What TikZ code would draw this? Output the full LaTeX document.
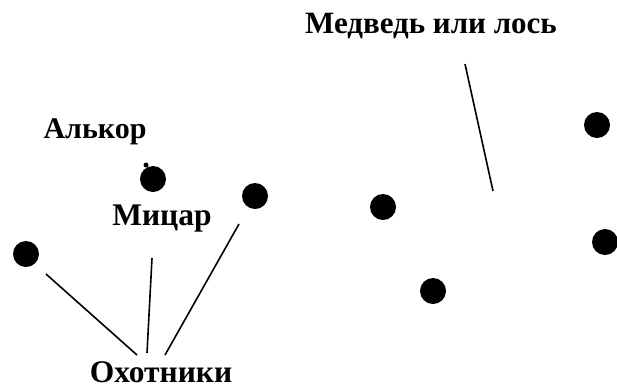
\documentclass[tikz,border=0pt]{standalone}
\usepackage{fontspec}
\setmainfont{Liberation Serif}
\begin{document}
\begin{tikzpicture}[x=1pt,y=-1pt,
  star/.style={circle,fill=black,inner sep=0pt,minimum size=26pt},
  tiny/.style={circle,fill=black,inner sep=0pt,minimum size=5pt},
  lbl/.style={anchor=base,inner sep=0pt,font=\bfseries},
  ptr/.style={line width=1.6pt}]
\useasboundingbox (0,0) rectangle (617,389);
% stars
\node[star] (s1) at (26,254) {};
\node[tiny] (alc) at (146,165) {};
\node[star] (miz) at (153,179) {};
\node[star] (s3) at (255,196) {};
\node[star] (s4) at (383,207) {};
\node[star] (s5) at (433,291) {};
\node[star] (s6) at (597,125) {};
\node[star] (s7) at (605,242) {};
% labels
\node[lbl,font=\bfseries\fontsize{30}{30}\selectfont] (alkor) at (95,138) {Алькор};
\node[lbl,font=\bfseries\fontsize{31.5}{31.5}\selectfont] (mizar) at (162,225) {Мицар};
\node[lbl,font=\bfseries\fontsize{31.5}{31.5}\selectfont] (hunt) at (161,382) {Охотники};
\node[lbl,font=\bfseries\fontsize{31}{31}\selectfont] (bear) at (431,33) {Медведь или лось};
% pointer lines
\coordinate (p1) at (46,274);
\coordinate (h1) at (137,355);
\coordinate (p2) at (152,258);
\coordinate (h2) at (147,353);
\coordinate (p3) at (239,224);
\coordinate (h3) at (165,355);
\coordinate (b1) at (465,64);
\coordinate (b2) at (493,191);
\draw[ptr] (p1) -- (h1);
\draw[ptr] (p2) -- (h2);
\draw[ptr] (p3) -- (h3);
\draw[ptr] (b1) -- (b2);
\end{tikzpicture}
\end{document}
